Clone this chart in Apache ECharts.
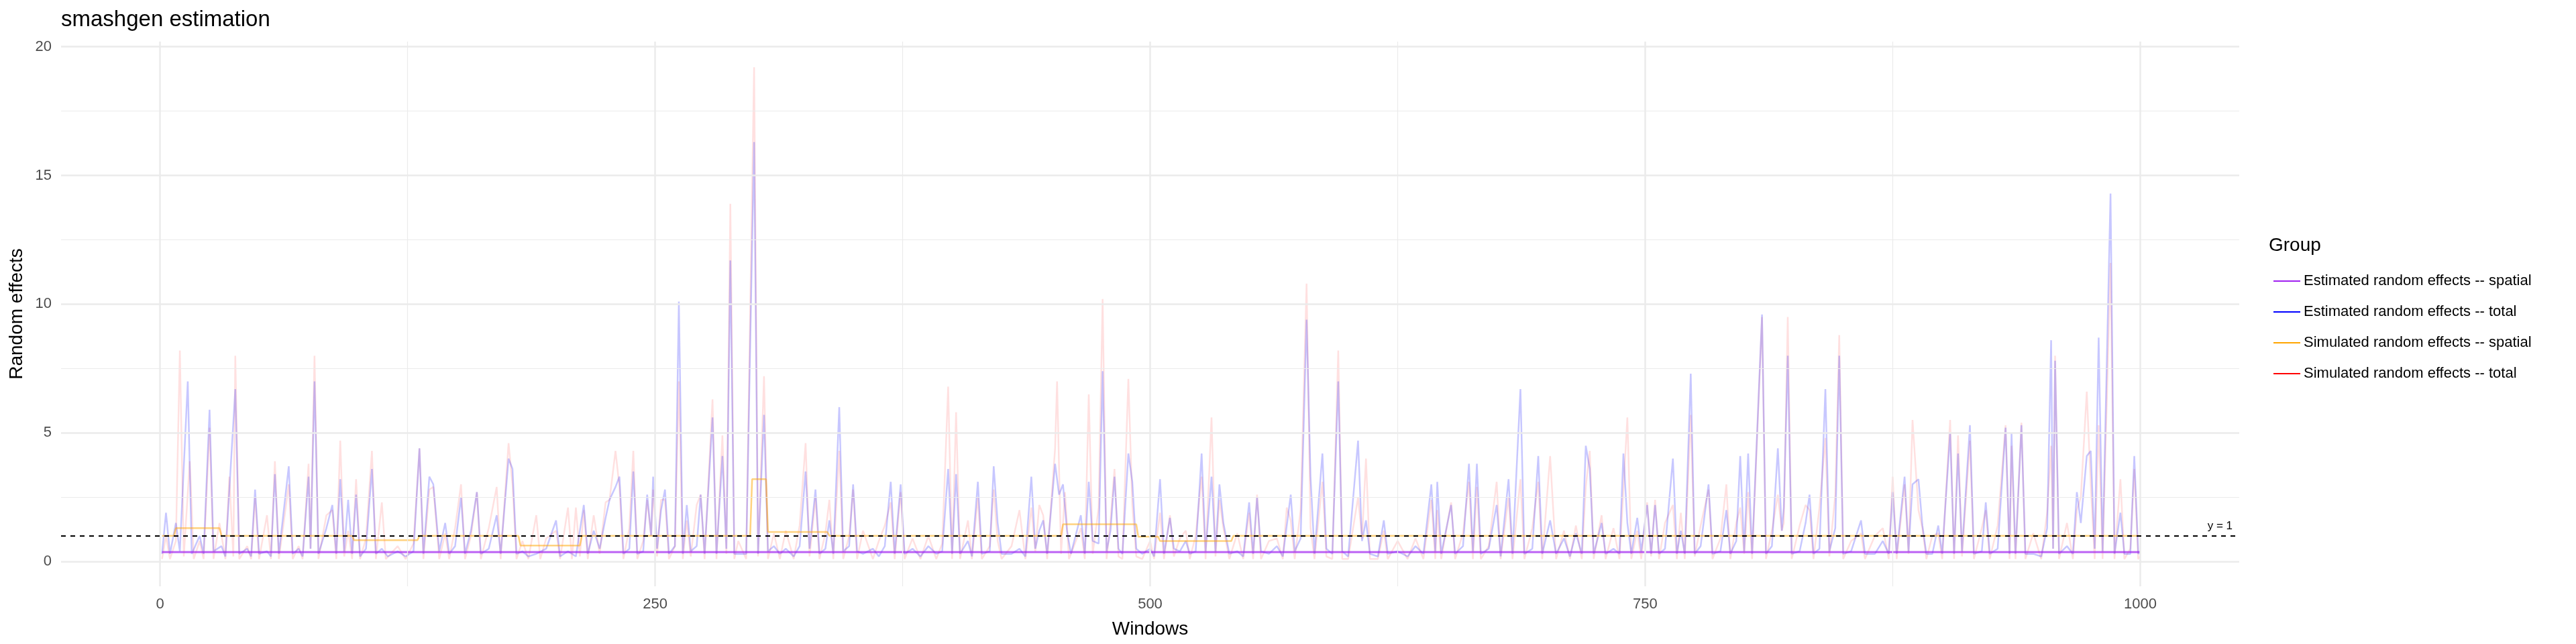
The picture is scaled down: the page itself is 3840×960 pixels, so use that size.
<!DOCTYPE html>
<html>
<head>
<meta charset="utf-8">
<script src="https://cdn.jsdelivr.net/npm/echarts@6/dist/echarts.min.js"></script>
<style>html,body{margin:0;padding:0;background:#fff}#chart{width:3840px;height:960px}</style>
</head>
<body>
<div id="chart"></div>
<script>
// Data: [window, value]
var estSpatial = [[1,0.37],[1000,0.37]];

var estTotal = [[1,0.3],[3,1.9],[5,0.3],[8,1.5],[10,0.4],[14,7.0],[16,0.3],[20,1.0],[22,0.3],[25,5.9],[27,0.4],[31,0.6],[33,0.2],[38,6.7],[40,0.3],[44,0.5],[46,0.2],[48,2.8],[50,0.3],[54,0.4],[56,0.2],[58,3.4],[60,0.3],[65,3.7],[67,0.3],[70,0.5],[72,0.2],[75,3.3],[76,0.5],[78,7.0],[80,0.3],[84,1.3],[87,2.2],[89,0.3],[91,3.2],[93,0.4],[95,2.4],[97,0.3],[99,2.6],[101,0.2],[104,0.5],[107,3.6],[109,0.3],[112,0.5],[115,0.2],[120,0.4],[124,0.2],[128,0.4],[131,4.4],[133,0.3],[136,3.3],[138,3.0],[141,0.4],[144,1.5],[146,0.3],[149,0.6],[152,2.5],[154,0.3],[157,1.2],[160,2.7],[162,0.3],[166,0.5],[170,1.8],[172,0.3],[176,4.0],[178,3.6],[180,0.3],[183,0.4],[186,0.2],[190,0.3],[195,0.5],[200,1.6],[202,0.2],[206,0.4],[210,0.2],[214,2.2],[216,0.3],[219,1.2],[222,0.5],[225,1.7],[227,2.4],[230,2.9],[232,3.3],[234,0.3],[237,0.5],[239,3.5],[241,0.3],[244,0.4],[246,2.6],[248,1.0],[249,3.3],[251,0.5],[253,2.0],[255,2.8],[257,0.3],[260,0.6],[262,10.1],[264,0.3],[266,2.2],[268,0.4],[271,0.6],[273,2.6],[275,0.3],[279,5.6],[281,0.3],[284,4.1],[286,0.5],[288,11.7],[290,0.3],[292,0.3],[296,0.3],[300,16.3],[302,0.3],[305,5.7],[307,0.4],[310,0.6],[313,0.3],[316,0.5],[320,0.2],[323,0.6],[326,3.5],[328,0.5],[331,2.8],[333,0.3],[336,0.5],[338,1.6],[340,0.3],[343,6.0],[345,0.4],[348,0.6],[350,3.0],[352,0.4],[355,0.3],[360,0.5],[363,0.2],[366,0.6],[369,3.1],[371,0.3],[374,3.0],[376,0.3],[380,0.5],[384,0.2],[388,0.6],[392,0.3],[395,0.4],[398,3.6],[400,0.3],[402,3.4],[404,0.3],[408,0.8],[410,0.2],[413,3.1],[415,0.3],[419,0.4],[421,3.7],[423,1.5],[425,0.3],[430,0.3],[434,0.5],[437,0.2],[440,3.3],[442,0.5],[444,1.2],[446,1.6],[448,0.3],[452,3.8],[454,2.6],[456,3.0],[458,1.2],[460,0.3],[463,1.2],[465,1.8],[467,0.3],[469,3.1],[471,0.8],[474,0.7],[476,7.4],[478,0.4],[480,1.2],[482,3.3],[484,0.5],[486,0.3],[489,4.2],[491,3.1],[493,0.5],[496,0.3],[500,0.5],[502,0.2],[505,3.2],[507,0.3],[510,1.7],[512,0.5],[515,0.4],[518,0.8],[520,0.3],[523,0.4],[526,4.2],[528,0.4],[531,3.3],[533,0.4],[535,3.0],[537,1.5],[540,0.3],[544,0.4],[547,0.2],[550,2.3],[552,0.3],[554,2.5],[556,0.4],[560,0.3],[564,0.6],[567,0.2],[571,2.6],[573,0.4],[576,0.9],[579,9.4],[581,3.3],[583,0.3],[587,4.2],[589,0.5],[592,0.3],[595,7.0],[597,0.4],[600,0.2],[605,4.7],[607,0.8],[609,1.6],[611,0.3],[615,0.2],[618,1.6],[620,0.3],[625,0.4],[630,0.2],[634,0.6],[638,0.3],[642,3.0],[644,0.4],[645,3.1],[647,0.3],[652,2.2],[654,0.3],[658,0.6],[661,3.8],[663,0.4],[665,3.8],[667,0.3],[671,0.5],[675,2.2],[677,0.2],[681,3.2],[683,0.3],[687,6.7],[689,0.3],[693,0.5],[696,4.1],[698,0.3],[702,1.6],[705,0.3],[709,0.9],[712,0.2],[715,1.1],[718,0.3],[720,4.5],[722,3.6],[724,0.3],[728,1.5],[730,0.3],[734,0.5],[737,0.3],[739,4.2],[741,1.5],[743,0.3],[746,1.7],[748,0.4],[751,2.2],[753,0.3],[755,2.2],[757,0.3],[760,0.5],[764,4.0],[766,0.3],[768,1.2],[770,0.3],[773,7.3],[775,0.3],[778,0.6],[782,3.0],[784,0.3],[788,0.4],[791,2.0],[793,0.3],[796,0.8],[798,4.1],[800,0.4],[802,4.2],[804,0.3],[809,9.6],[811,0.3],[814,0.6],[817,4.4],[819,1.2],[820,2.1],[822,8.0],[824,0.3],[828,0.4],[831,1.5],[833,2.6],[835,0.3],[838,0.5],[841,6.7],[843,0.4],[846,1.3],[848,8.0],[850,0.3],[854,0.4],[859,1.6],[861,0.3],[866,0.3],[870,0.8],[873,0.3],[875,2.7],[877,0.3],[881,3.3],[883,0.4],[885,3.0],[888,3.2],[890,1.4],[892,0.3],[895,0.3],[898,1.4],[900,0.3],[904,5.0],[906,0.3],[908,4.2],[910,0.4],[914,5.3],[916,0.3],[920,0.4],[922,2.3],[924,0.3],[928,0.5],[932,5.2],[934,0.3],[935,5.0],[937,0.3],[940,5.3],[942,0.3],[946,0.3],[950,0.2],[953,1.3],[955,8.6],[956,0.5],[957,7.8],[959,0.3],[963,0.6],[966,0.3],[968,2.7],[970,1.5],[973,4.1],[975,4.3],[977,0.5],[979,8.7],[981,0.4],[985,14.3],[987,0.3],[990,1.9],[992,0.3],[995,0.3],[997,4.1],[999,0.3],[1000,0.4]];

var simSpatial = [[1,1.0],[7,1.0],[8,1.3],[30,1.3],[31,1.0],[97,1.0],[98,0.83],[130,0.83],[131,1.0],[181,1.0],[182,0.62],[212,0.62],[213,1.0],[298,1.0],[299,3.2],[306,3.2],[307,1.15],[337,1.15],[338,1.0],[455,1.0],[456,1.45],[493,1.45],[494,0.97],[504,0.97],[505,0.8],[541,0.8],[542,1.0],[1000,1.0]];

var simTotal = [[1,0.1],[3,1.0],[5,0.1],[8,0.8],[10,8.2],[12,0.2],[15,3.9],[17,0.1],[20,0.8],[22,0.1],[25,5.2],[27,0.1],[30,1.5],[33,0.1],[35,3.3],[37,0.2],[38,8.0],[40,0.1],[44,0.6],[46,0.1],[48,2.5],[50,0.1],[54,1.8],[56,0.1],[58,3.9],[60,0.1],[65,3.0],[67,0.1],[70,0.6],[72,0.1],[75,3.8],[76,0.5],[78,8.0],[80,0.1],[84,1.8],[87,2.0],[89,0.1],[91,4.7],[93,0.2],[95,1.2],[97,0.1],[99,3.2],[101,0.1],[104,0.9],[107,4.3],[109,0.1],[112,2.3],[114,0.1],[120,0.6],[124,0.1],[128,0.7],[131,4.4],[133,0.1],[136,2.8],[138,2.9],[141,0.1],[144,1.1],[146,0.1],[149,1.3],[152,3.0],[154,0.1],[157,1.0],[160,2.7],[162,0.1],[166,1.3],[170,2.9],[172,0.1],[176,4.6],[178,3.0],[180,0.1],[183,0.8],[186,0.1],[190,1.8],[192,0.1],[195,0.9],[200,1.2],[202,0.1],[206,2.1],[208,0.1],[210,2.1],[212,0.2],[214,2.0],[216,0.1],[219,1.8],[222,0.3],[225,2.3],[227,2.4],[230,4.3],[232,2.9],[234,0.1],[237,1.3],[239,4.3],[241,0.1],[244,0.8],[246,2.4],[248,1.0],[249,2.8],[251,0.2],[253,2.4],[255,2.4],[257,0.1],[260,0.6],[262,7.0],[264,0.1],[266,1.6],[268,0.2],[271,2.2],[273,2.6],[275,0.1],[279,6.3],[281,0.1],[284,4.9],[286,0.3],[288,13.9],[290,0.1],[292,0.8],[296,0.1],[300,19.2],[302,0.2],[305,7.2],[307,0.1],[310,1.1],[313,0.1],[316,1.2],[320,0.1],[323,1.4],[326,4.6],[328,0.2],[331,2.5],[333,0.1],[336,1.1],[338,2.4],[340,0.1],[343,4.3],[345,0.1],[348,1.0],[350,2.8],[352,0.1],[355,1.2],[360,0.1],[363,0.8],[366,1.4],[369,2.3],[371,0.1],[374,2.7],[376,0.1],[380,0.9],[384,0.1],[388,1.0],[392,0.1],[395,0.7],[398,6.8],[400,0.1],[402,5.8],[404,0.1],[408,1.6],[410,0.1],[413,2.5],[415,0.1],[419,0.6],[421,2.8],[423,0.8],[425,0.1],[430,0.6],[434,2.0],[437,0.1],[440,2.1],[442,0.4],[444,2.2],[446,1.8],[448,0.1],[452,4.4],[453,7.0],[455,0.3],[457,2.7],[459,0.1],[463,0.9],[465,1.3],[467,0.1],[469,6.5],[471,0.3],[474,2.1],[476,10.2],[478,0.1],[480,1.6],[482,3.6],[484,0.2],[486,0.1],[489,7.1],[491,2.2],[493,0.2],[496,0.1],[500,0.8],[502,0.1],[505,1.9],[507,0.1],[510,1.8],[512,0.2],[515,0.9],[518,1.2],[520,0.1],[523,1.0],[526,3.3],[528,0.1],[531,5.6],[533,0.2],[535,2.4],[537,1.3],[540,0.1],[544,1.1],[547,0.1],[550,1.9],[552,0.1],[554,2.6],[556,0.1],[560,0.8],[564,0.9],[567,0.1],[569,2.1],[571,1.6],[573,0.1],[576,2.0],[579,10.8],[581,1.3],[583,0.1],[587,3.1],[589,0.2],[592,0.1],[595,8.2],[597,0.1],[600,0.1],[605,2.5],[607,0.9],[609,4.0],[611,0.1],[615,0.1],[618,1.2],[620,0.1],[625,0.8],[630,0.1],[634,0.9],[638,0.1],[642,2.4],[644,0.1],[645,2.0],[647,0.1],[652,2.3],[654,0.1],[658,1.1],[661,3.1],[663,0.1],[665,2.9],[667,0.1],[671,0.6],[675,3.1],[677,0.1],[681,2.5],[683,0.1],[687,3.2],[689,0.1],[693,1.3],[696,3.1],[698,0.1],[702,4.1],[705,0.1],[709,1.2],[712,0.1],[715,1.4],[718,0.1],[720,2.9],[722,4.3],[724,0.1],[728,1.8],[730,0.1],[734,1.3],[737,0.1],[739,2.8],[741,5.6],[743,0.1],[746,1.2],[748,0.1],[751,2.3],[753,0.2],[755,2.4],[757,0.1],[760,1.5],[764,2.2],[766,0.1],[768,1.9],[770,0.1],[773,5.7],[775,0.2],[778,1.4],[782,2.8],[784,0.1],[788,0.9],[791,3.0],[793,0.1],[796,1.5],[798,2.1],[800,0.3],[802,2.7],[804,0.1],[809,9.5],[811,0.1],[814,1.2],[817,2.6],[819,1.2],[820,1.5],[822,9.5],[824,0.1],[828,1.4],[831,2.2],[833,2.0],[835,0.1],[838,2.1],[841,4.8],[843,0.2],[846,2.6],[848,8.8],[850,0.1],[854,0.8],[859,1.1],[861,0.1],[866,1.0],[870,1.3],[873,0.1],[875,3.3],[877,0.1],[881,3.0],[883,0.3],[885,5.5],[888,2.0],[890,1.3],[892,0.1],[895,1.0],[898,1.1],[900,0.1],[904,5.5],[906,0.1],[908,4.9],[910,0.2],[914,4.7],[916,0.1],[920,1.3],[922,2.0],[924,0.1],[928,1.4],[932,5.3],[934,0.1],[935,4.5],[937,0.1],[940,5.4],[942,0.1],[946,1.1],[950,0.1],[953,1.9],[955,4.5],[956,0.5],[957,8.0],[959,0.1],[963,1.5],[966,0.1],[968,2.0],[970,2.5],[973,6.6],[975,3.0],[977,0.1],[979,5.3],[981,0.1],[985,11.6],[987,0.1],[990,3.2],[992,0.1],[995,0.5],[997,3.6],[999,0.1],[1000,0.2]];

var xTicks = [0, 250, 500, 750, 1000];
var xMinor = [125, 375, 625, 875];
var yTicks = [0, 5, 10, 15, 20];
var yMinor = [2.5, 7.5, 12.5, 17.5];
var names = ['Estimated random effects -- spatial', 'Estimated random effects -- total',
             'Simulated random effects -- spatial', 'Simulated random effects -- total'];
var colors = ['#a020f0', '#0000ff', '#ffa500', '#ff0000'];

var FONT = 'Liberation Sans';
var chart = echarts.init(document.getElementById('chart'));

function gridLines(vals, axis, w) {
    return vals.map(function (v) {
        var o = {}; o[axis] = v;
        o.lineStyle = {color: '#ebebeb', width: w, type: 'solid'};
        return o;
    });
}

function lineSeries(i, data, opacity, width) {
    return {
        name: names[i], type: 'line', data: data, showSymbol: false, symbol: 'none',
        animation: false, z: 3,
        itemStyle: {color: colors[i]},
        lineStyle: {color: colors[i], width: width, opacity: opacity}
    };
}

chart.setOption({
    backgroundColor: '#fff',
    animation: false,
    title: {text: 'smashgen estimation', left: 86, top: 8,
        textStyle: {fontFamily: FONT, fontSize: 33, fontWeight: 'normal', color: '#000'}},
    grid: {left: 91, right: 502, top: 62, bottom: 86},
    xAxis: {
        type: 'value', min: -50, max: 1050,
        name: 'Windows', nameLocation: 'middle', nameGap: 50,
        nameTextStyle: {fontFamily: FONT, fontSize: 28, color: '#000'},
        axisLine: {show: false}, axisTick: {show: false}, splitLine: {show: false},
        axisLabel: {customValues: xTicks, formatter: function (v) { return String(v); },
            fontFamily: FONT, fontSize: 22, color: '#4d4d4d', margin: 16}
    },
    yAxis: {
        type: 'value', min: -0.96, max: 20.2,
        name: 'Random effects', nameLocation: 'middle', nameGap: 52,
        nameTextStyle: {fontFamily: FONT, fontSize: 28, color: '#000'},
        axisLine: {show: false}, axisTick: {show: false}, splitLine: {show: false},
        axisLabel: {customValues: yTicks, fontFamily: FONT, fontSize: 22, color: '#4d4d4d', margin: 14}
    },
    legend: {
        data: names.map(function (n, i) {
            return {name: n, lineStyle: {opacity: 1, width: 4, color: colors[i]}};
        }),
        orient: 'vertical', left: 3384, top: 403, itemGap: 24,
        itemWidth: 40, itemHeight: 20, icon: 'path://M0,9L40,9L40,11L0,11Z',
        textStyle: {fontFamily: FONT, fontSize: 22, color: '#000'}
    },
    graphic: [{type: 'text', left: 3382, top: 352,
        style: {text: 'Group', fontFamily: FONT, fontSize: 28, fill: '#000'}}],
    series: [
        {
            type: 'line', data: [], silent: true, z: 1,
            markLine: {
                silent: true, symbol: 'none', label: {show: false}, animation: false,
                data: gridLines(xTicks, 'xAxis', 2.5).concat(gridLines(xMinor, 'xAxis', 1.2))
                    .concat(gridLines(yTicks, 'yAxis', 2.5)).concat(gridLines(yMinor, 'yAxis', 1.2))
            }
        },
        lineSeries(3, simTotal, 0.12, 2.5),
        lineSeries(1, estTotal, 0.22, 2.5),
        lineSeries(2, simSpatial, 0.5, 2.5),
        lineSeries(0, estSpatial, 0.7, 3),
        {
            type: 'line', data: [], silent: true, z: 5,
            markLine: {
                silent: true, symbol: 'none', animation: false,
                data: [{yAxis: 1, lineStyle: {color: '#000', type: [7, 7], width: 2}}],
                label: {show: true, formatter: 'y = 1', position: 'insideEndTop',
                    fontFamily: FONT, fontSize: 17, color: '#000', distance: [10, 6]}
            }
        }
    ]
});
</script>
</body>
</html>
